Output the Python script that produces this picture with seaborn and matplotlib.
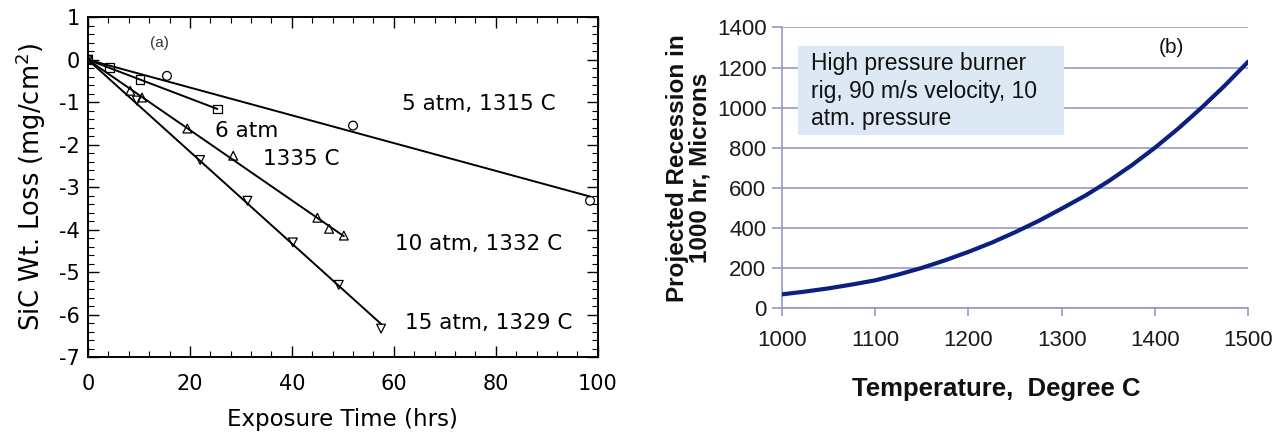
import numpy as np
import pandas as pd
import seaborn as sns
import matplotlib.pyplot as plt
from matplotlib.patches import Rectangle
from matplotlib.ticker import MultipleLocator

# (a) SiC weight loss vs exposure time
t_5atm = [0, 15.5, 52, 98.5]
w_5atm = [0, -0.38, -1.55, -3.32]
t_6atm = [0, 4.3, 10.2, 25.4]
w_6atm = [0, -0.18, -0.47, -1.16]
t_10atm = [0, 8.3, 10.6, 19.5, 28.5, 45, 47.3, 50.2]
w_10atm = [0, -0.73, -0.89, -1.62, -2.26, -3.72, -3.98, -4.14]
t_15atm = [0, 9.6, 22, 31.3, 40.2, 49.2, 57.5]
w_15atm = [0, -0.96, -2.36, -3.32, -4.3, -5.3, -6.33]

# (b) projected recession vs temperature
temp_c = [1000, 1025, 1050, 1075, 1100, 1125, 1150, 1175, 1200, 1225, 1250,
          1275, 1300, 1325, 1350, 1375, 1400, 1425, 1450, 1475, 1500]
recession = [68, 82, 98, 117, 138, 167, 200, 238, 280, 326, 378,
             434, 496, 560, 632, 712, 800, 896, 1000, 1111, 1230]

sns.set_style("ticks")
plt.rcParams["font.family"] = ["Liberation Sans", "DejaVu Sans"]
plt.rcParams["axes.unicode_minus"] = False

fig = plt.figure(figsize=(12.84, 4.43), dpi=100)
ax1 = fig.add_axes([0.0685, 0.194, 0.397, 0.767])
ax2 = fig.add_axes([0.6088, 0.3047, 0.3634, 0.6333])

series = [
    (t_5atm, w_5atm, "o"),
    (t_6atm, w_6atm, "s"),
    (t_10atm, w_10atm, "^"),
    (t_15atm, w_15atm, "v"),
]
for t, w, m in series:
    t = np.array(t)
    w = np.array(w)
    # straight fit through the origin, drawn out to the last point
    k = (t * w).sum() / (t * t).sum()
    fit = pd.DataFrame({"t": [0, t.max()], "w": [0, k * t.max()]})
    sns.lineplot(data=fit, x="t", y="w", ax=ax1, color="black", lw=1.4)
    pts = pd.DataFrame({"t": t, "w": w})
    sns.scatterplot(data=pts, x="t", y="w", ax=ax1, marker=m, s=40,
                    facecolor="none", edgecolor="black", linewidth=0.9, zorder=3)

dv = ["DejaVu Sans"]
ax1.set_xlim(0, 100)
ax1.set_ylim(-7, 1)
ax1.xaxis.set_major_locator(MultipleLocator(20))
ax1.xaxis.set_minor_locator(MultipleLocator(4))
ax1.yaxis.set_major_locator(MultipleLocator(1))
ax1.yaxis.set_minor_locator(MultipleLocator(0.2))
ax1.tick_params(which="both", direction="in", top=True, right=True, colors="black",
                labelsize=15)
ax1.tick_params(which="major", length=8, width=1)
ax1.tick_params(which="minor", length=4, width=0.8)
ax1.tick_params(axis="x", pad=12)
ax1.tick_params(axis="y", pad=6)
for lbl in ax1.get_xticklabels() + ax1.get_yticklabels():
    lbl.set_family(dv)
for sp in ax1.spines.values():
    sp.set_visible(True)
    sp.set_linewidth(1.4)
    sp.set_color("black")
ax1.set_xlabel("Exposure Time (hrs)", fontsize=16.5, family=dv, color="black",
               labelpad=10)
ax1.set_ylabel("SiC Wt. Loss (mg/cm$^{\\mathregular{2}}$)", fontsize=18.5, family=dv,
               color="black", labelpad=8)

lab = dict(fontsize=15.5, color="black", va="center", family=dv)
ax1.text(61.6, -1.04, "5 atm, 1315 C", **lab)
ax1.text(25.0, -1.67, "6 atm", **lab)
ax1.text(34.3, -2.33, "1335 C", **lab)
ax1.text(60.2, -4.33, "10 atm, 1332 C", **lab)
ax1.text(62.2, -6.19, "15 atm, 1329 C", **lab)
ax1.text(12.2, 0.4, "(a)", fontsize=11, color="#333344", va="center")

# right panel
grid_c = "#8e92c4"
dfb = pd.DataFrame({"temp": temp_c, "rec": recession})
sns.lineplot(data=dfb, x="temp", y="rec", ax=ax2, color="#0b2080", lw=3,
             zorder=3, solid_capstyle="round")
ax2.set_xlim(1000, 1500)
ax2.set_ylim(0, 1400)
ax2.set_xticks(np.arange(1000, 1501, 100))
ax2.set_yticks(np.arange(0, 1401, 200))
ax2.grid(axis="y", color=grid_c, lw=1.1)
for s in ["top", "right"]:
    ax2.spines[s].set_visible(False)
ax2.spines["left"].set_color(grid_c)
ax2.spines["bottom"].set_color(grid_c)
ax2.spines["left"].set_linewidth(1.1)
ax2.spines["bottom"].set_linewidth(1.1)
ax2.tick_params(axis="x", color=grid_c, length=6, width=1.1, labelsize=16,
                labelcolor="#1a1a1a", pad=10)
ax2.tick_params(axis="y", color=grid_c, length=7, width=1.1, labelsize=16,
                labelcolor="#1a1a1a", pad=4)
ax2.set_xlabel("Temperature,  Degree C", fontsize=18.5, fontweight="bold",
               color="#111111")
ax2.xaxis.set_label_coords(0.46, -0.245)
ax2.set_ylabel("Projected Recession in\n1000 hr, Microns", fontsize=17.5,
               fontweight="bold", color="#111111", labelpad=4, linespacing=0.95)
ax2.add_patch(Rectangle((0.035, 0.617), 0.57, 0.317, transform=ax2.transAxes,
                        fc="#dce9f5", ec="none", zorder=4))
ax2.text(0.063, 0.772, "High pressure burner\nrig, 90 m/s velocity, 10\natm. pressure",
         transform=ax2.transAxes, fontsize=16.5, color="#111111", va="center",
         ha="left", linespacing=1.25, zorder=5)
ax2.text(1418, 1300, "(b)", fontsize=15, color="#111111", va="center", ha="center")

fig.savefig("out.png", dpi=100)
